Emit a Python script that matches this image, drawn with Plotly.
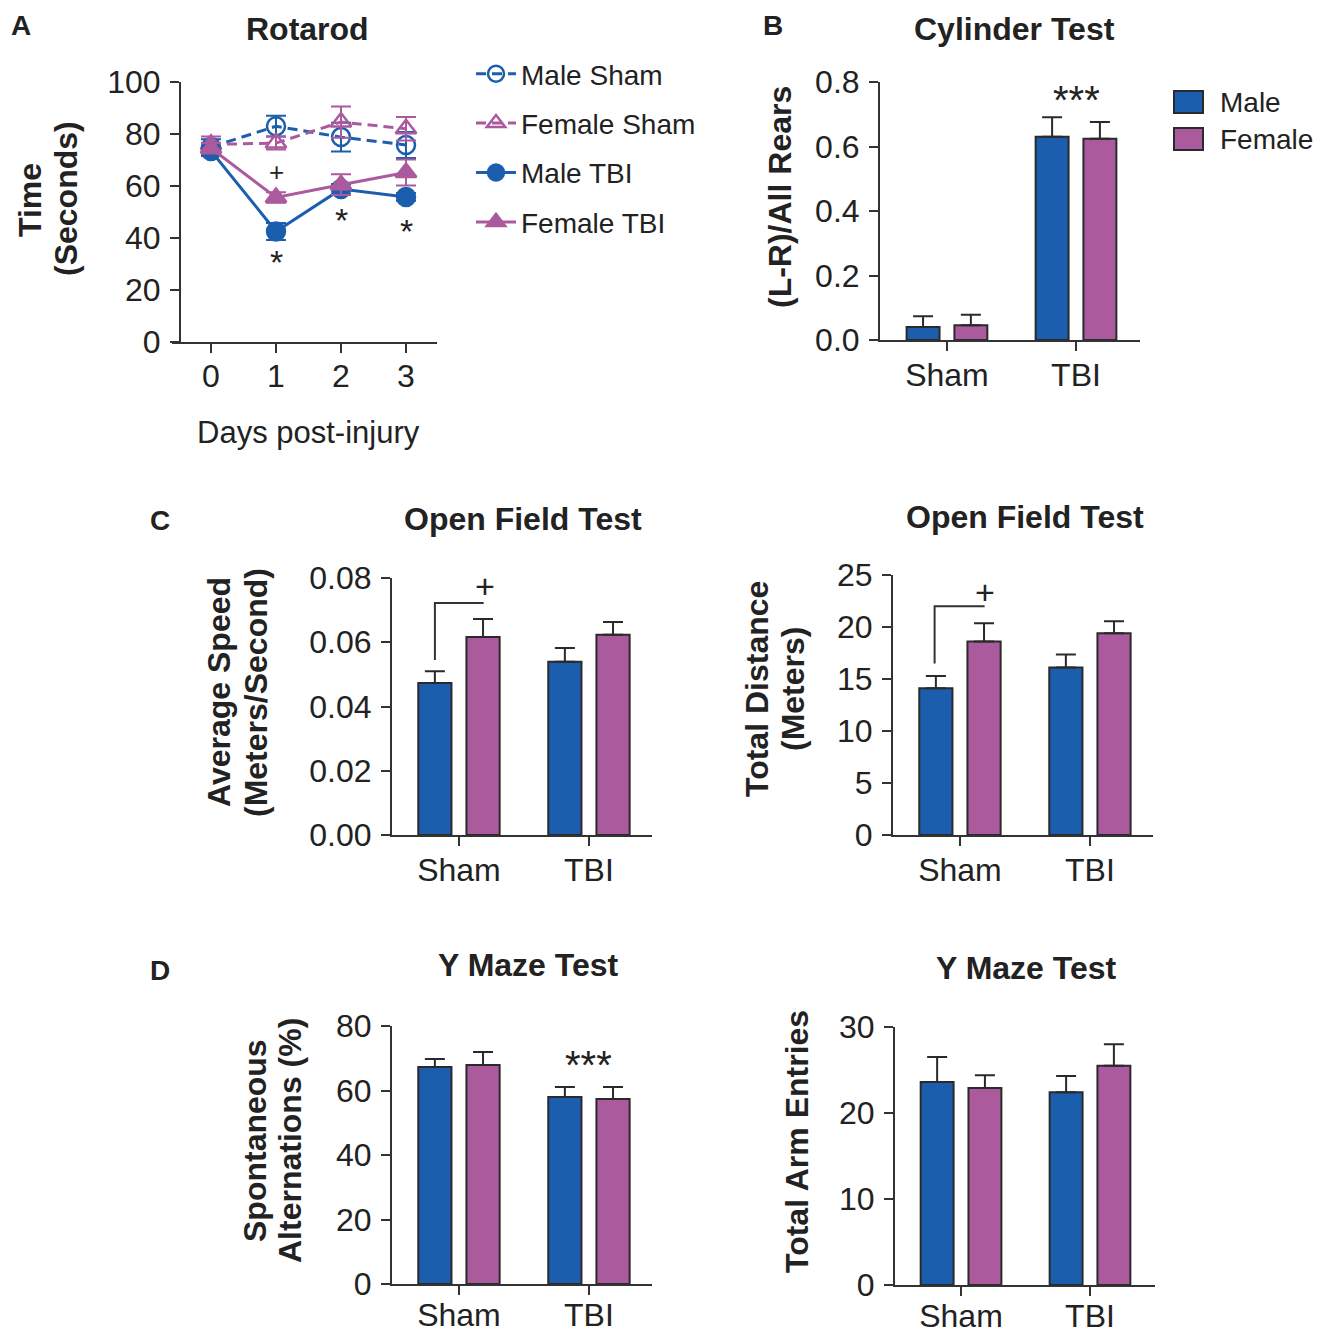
import plotly.graph_objects as go

# Page is shown with the default 8px body margin; work in page pixels.
OFF = 8
FW, FH = 1307, 1334
FONT = "Liberation Sans, Arial, Helvetica, sans-serif"
INK = "#222222"
AX = "#333333"
BLUE = "#1b5eae"
PINK = "#ab5a9e"

# ---------------- data ----------------
days = [0, 1, 2, 3]
male_sham = [75.0, 83.0, 78.8, 75.8]
male_sham_err = [3.0, 4.0, 5.5, 5.0]
female_sham = [76.0, 76.5, 84.6, 82.0]
female_sham_err = [3.0, 2.5, 6.0, 4.5]
male_tbi = [73.5, 42.5, 58.8, 55.8]
male_tbi_err = [2.0, 3.3, 2.0, 1.5]
female_tbi = [74.5, 55.6, 60.5, 65.2]
female_tbi_err = [2.0, 2.0, 4.0, 5.0]

groups = ["Sham", "TBI"]
group_pos = [0, 1]

cyl_male = [0.040, 0.630]
cyl_male_err = [0.034, 0.061]
cyl_female = [0.046, 0.624]
cyl_female_err = [0.032, 0.052]

speed_male = [0.0473, 0.0539]
speed_male_err = [0.0037, 0.0043]
speed_female = [0.0616, 0.0623]
speed_female_err = [0.0056, 0.0040]

dist_male = [14.1, 16.1]
dist_male_err = [1.2, 1.25]
dist_female = [18.6, 19.4]
dist_female_err = [1.75, 1.15]

alt_male = [67.3, 58.0]
alt_male_err = [2.5, 3.1]
alt_female = [67.9, 57.4]
alt_female_err = [4.0, 3.7]

arms_male = [23.6, 22.4]
arms_male_err = [2.9, 1.9]
arms_female = [22.9, 25.5]
arms_female_err = [1.5, 2.5]


def fx(p):
    return (p - OFF) / FW


def fy(p):
    return 1 - (p - OFF) / FH


def dx(a, b):
    return [fx(a), fx(b)]


def dy(top, bot):
    return [fy(bot), fy(top)]


fig = go.Figure()

# ---------------- panel A: rotarod ----------------
series = [
    ("Male Sham", male_sham, male_sham_err, BLUE, "circle-open", "10px,6px"),
    ("Female Sham", female_sham, female_sham_err, PINK, "triangle-up-open", "10px,6px"),
    ("Male TBI", male_tbi, male_tbi_err, BLUE, "circle", "solid"),
    ("Female TBI", female_tbi, female_tbi_err, PINK, "triangle-up", "solid"),
]
for name, vals, err, col, sym, dash in series:
    fig.add_trace(go.Scatter(
        x=days, y=vals, name=name, mode="lines+markers",
        line=dict(color=col, width=3, dash=dash),
        marker=dict(symbol=sym, size=18, color=col, line=dict(color=col, width=2.5)),
        error_y=dict(type="data", array=err, visible=True, color=col, thickness=2, width=10),
        xaxis="x", yaxis="y", legendgroup=name, legend="legend",
        cliponaxis=False,
    ))

# ---------------- bar panels ----------------
bar_panels = [
    ("2", cyl_male, cyl_male_err, cyl_female, cyl_female_err),
    ("3", speed_male, speed_male_err, speed_female, speed_female_err),
    ("4", dist_male, dist_male_err, dist_female, dist_female_err),
    ("5", alt_male, alt_male_err, alt_female, alt_female_err),
    ("6", arms_male, arms_male_err, arms_female, arms_female_err),
]
for k, m, me, f, fe in bar_panels:
    for nm, vals, err, col in (("Male", m, me, BLUE), ("Female", f, fe, PINK)):
        fig.add_trace(go.Bar(
            x=group_pos, y=vals, name=nm, showlegend=False,
            marker=dict(color=col, line=dict(color="#2a2a2a", width=2)),
            error_y=dict(type="data", symmetric=False, array=err,
                         arrayminus=[0] * len(err), color="#2a2a2a",
                         thickness=2, width=10),
            xaxis="x" + k, yaxis="y" + k,
        ))

tickfont = dict(family=FONT, size=32, color=INK)
axis_common = dict(showline=True, linecolor=AX, linewidth=2, ticks="outside",
                   ticklen=9, tickwidth=2, tickcolor=AX, showgrid=False,
                   zeroline=False, tickfont=tickfont, fixedrange=True,
                   automargin=False)

layout = dict(
    width=FW, height=FH, margin=dict(l=0, r=0, t=0, b=0, autoexpand=False),
    paper_bgcolor="white", plot_bgcolor="white",
    font=dict(family=FONT, color=INK),
    bargap=0.259, bargroupgap=0.311, barmode="group",
    showlegend=True,
    legend=dict(x=fx(471), y=fy(49), xanchor="left", yanchor="top",
                font=dict(family=FONT, size=28, color=INK),
                tracegroupgap=10, bgcolor="rgba(0,0,0,0)", itemwidth=40),
)

# panel A axes (x-axis line starts slightly left of the y-axis, GraphPad style)
layout["xaxis"] = dict(domain=dx(172, 437), range=[(172 - 211) / 65, (437 - 211) / 65],
                       anchor="y", tickvals=days, ticklabelstandoff=-4, **axis_common)
layout["yaxis"] = dict(domain=dy(82, 342), range=[0, 100], anchor="free", position=fx(180),
                       tickvals=[0, 20, 40, 60, 80, 100],
                       ticklabelstandoff=3, **axis_common)

bar_axes = {
    "2": (dx(880, 1140), [-0.519, 1.496], dy(82, 340), [0, 0.8], [0, 0.2, 0.4, 0.6, 0.8], ".1f", -3),
    "3": (dx(392, 652), [-0.515, 1.485], dy(578, 835), [0, 0.08], [0, 0.02, 0.04, 0.06, 0.08], ".2f", -3),
    "4": (dx(893, 1153), [-0.515, 1.485], dy(575, 835), [0, 25], [0, 5, 10, 15, 20, 25], "d", -3),
    "5": (dx(392, 652), [-0.515, 1.485], dy(1026, 1284), [0, 80], [0, 20, 40, 60, 80], "d", -7),
    "6": (dx(895, 1155), [-0.512, 1.504], dy(1027, 1285), [0, 30], [0, 10, 20, 30], "d", -7),
}
for k, (xd, xr, yd, yr, yt, fmt, so) in bar_axes.items():
    layout["xaxis" + k] = dict(domain=xd, range=xr, anchor="y" + k,
                               tickvals=group_pos, ticktext=groups,
                               ticklabelstandoff=so, **axis_common)
    layout["yaxis" + k] = dict(domain=yd, range=yr, anchor="x" + k,
                               tickvals=yt, tickformat=fmt,
                               ticklabelstandoff=3, **axis_common)

fig.update_layout(**layout)

# ---------------- text ----------------
anns = []


def ptext(x, y, s, size=32, bold=False, angle=0, xanchor="center"):
    anns.append(dict(x=fx(x), y=fy(y), xref="paper", yref="paper", text=s,
                     showarrow=False, textangle=angle, xanchor=xanchor, yanchor="middle",
                     font=dict(family=FONT, size=size, color=INK,
                               weight="bold" if bold else "normal")))


def dtext(x, y, s, k, size=32):
    anns.append(dict(x=x, y=y, xref="x" + k, yref="y" + k, text=s, showarrow=False,
                     xanchor="center", yanchor="middle",
                     font=dict(family=FONT, size=size, color=INK)))


# panel letters
ptext(21, 26, "A", 28, True)
ptext(773, 26, "B", 28, True)
ptext(160, 521, "C", 28, True)
ptext(160, 970, "D", 28, True)

# titles
ptext(307, 29, "Rotarod", 32, True)
ptext(1014, 29, "Cylinder Test", 32, True)
ptext(523, 519, "Open Field Test", 32, True)
ptext(1025, 517, "Open Field Test", 32, True)
ptext(528, 965, "Y Maze Test", 32, True)
ptext(1026, 968, "Y Maze Test", 32, True)

# y-axis titles (rotated)
ptext(30, 200, "Time", 32, True, -90)
ptext(66, 199, "(Seconds)", 32, True, -90)
ptext(780, 197, "(L-R)/All Rears", 32, True, -90)
ptext(219, 692, "Average Speed", 32, True, -90)
ptext(256, 692, "(Meters/Second)", 32, True, -90)
ptext(757, 689, "Total Distance", 32, True, -90)
ptext(793, 689, "(Meters)", 32, True, -90)
ptext(255, 1141, "Spontaneous", 32, True, -90)
ptext(290, 1141, "Alternations (%)", 32, True, -90)
ptext(797, 1142, "Total Arm Entries", 32, True, -90)

# x-axis title for rotarod
ptext(308, 432, "Days post-injury", 31)

# significance marks
dtext(1, 65.4, "+", "", 26)
for xv, yv in ((1, 30.6), (2, 47.1), (3, 42.5)):
    dtext(xv, yv, "*", "", 34)
dtext(1, 0.744, "***", "2", 40)
dtext(1, 67.9, "***", "5", 40)
dtext(0.2, 0.0775, "+", "3", 34)
dtext(0.19, 23.4, "+", "4", 34)

# legend for bar colours
for yc, lab, col in ((102, "Male", BLUE), (139, "Female", PINK)):
    fig.add_shape(type="rect", xref="paper", yref="paper",
                  x0=fx(1174), x1=fx(1203), y0=fy(yc + 11), y1=fy(yc - 11),
                  fillcolor=col, line=dict(color="#2a2a2a", width=2))
    ptext(1218, yc, lab, 28, False, 0, "left")

# significance brackets
fig.add_shape(type="path", xref="x3", yref="y3",
              path="M -0.185,0.0545 L -0.185,0.0722 L 0.19,0.0722",
              line=dict(color=AX, width=2))
fig.add_shape(type="path", xref="x4", yref="y4",
              path="M -0.195,16.5 L -0.195,22.0 L 0.19,22.0",
              line=dict(color=AX, width=2))

fig.update_layout(annotations=anns)
fig.write_html("out.html")
